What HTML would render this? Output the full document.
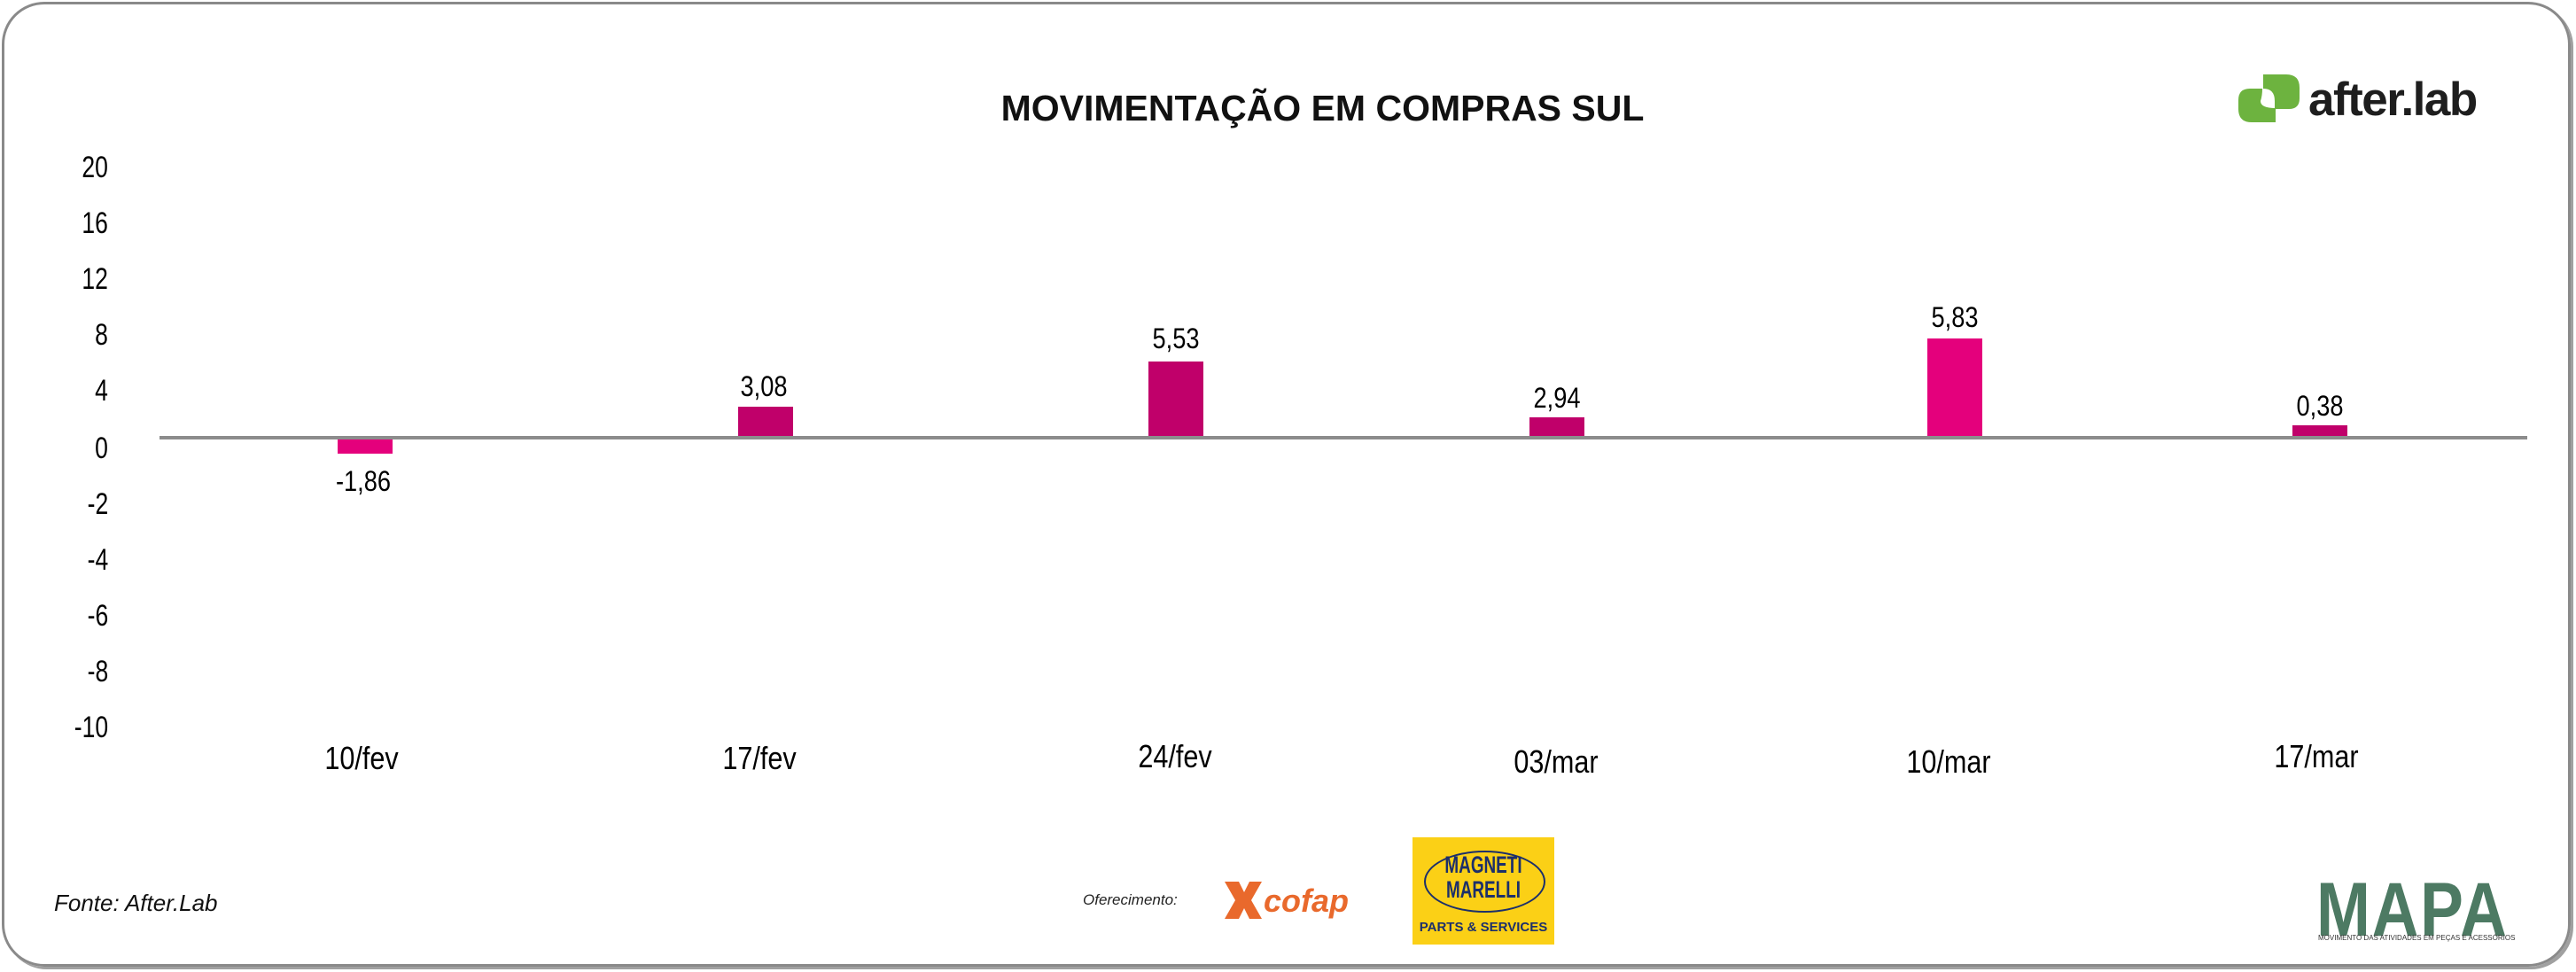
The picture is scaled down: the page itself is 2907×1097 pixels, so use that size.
<!DOCTYPE html>
<html><head><meta charset="utf-8"><style>
html,body{margin:0;padding:0;background:#fff}
body{width:2907px;height:1097px;position:relative;overflow:hidden;font-family:"Liberation Sans",sans-serif}
.frame{position:absolute;left:2px;top:2px;width:2893px;height:1083px;border:3px solid #8a8a8a;border-radius:48px;box-shadow:3px 3px 0 #a0a0a0}
.t{position:absolute;white-space:nowrap;color:#111}
.tick{position:absolute;right:2785px;font-size:34px;transform:scaleX(.78);transform-origin:right center;line-height:1}
.xl{position:absolute;font-size:36px;transform:translateX(-50%) scaleX(.85);line-height:1}
.vl{position:absolute;font-size:32px;transform:translateX(-50%) scaleX(.85);line-height:1}
.bar{position:absolute;width:62px}
</style></head><body>
<div class="frame"></div>
<div class="t" style="left:0;width:2985px;text-align:center;top:99px;font-size:41px;font-weight:bold">MOVIMENTAÇÃO EM COMPRAS SUL</div>
<svg style="position:absolute;left:2526px;top:84px" width="70" height="54" viewBox="0 0 70 54">
<path d="M28 0H54Q69 0 69 15V27Q69 39 57 39H41V30Q41 16 28 16Z" fill="#6db33f"/>
<path d="M27 54H15Q0 54 0 39V29Q0 16 13 16H27Q27 24 25 30Q25 38 42 38V54Z" fill="#6db33f"/>
</svg>
<div class="t" style="left:2605px;top:82px;font-size:53px;font-weight:bold;color:#1e1e1e;letter-spacing:-1.5px">after.lab</div>
<div class="tick" style="top:172px">20</div>
<div class="tick" style="top:235px">16</div>
<div class="tick" style="top:298px">12</div>
<div class="tick" style="top:361px">8</div>
<div class="tick" style="top:424px">4</div>
<div class="tick" style="top:489px">0</div>
<div class="tick" style="top:552px">-2</div>
<div class="tick" style="top:615px">-4</div>
<div class="tick" style="top:678px">-6</div>
<div class="tick" style="top:741px">-8</div>
<div class="tick" style="top:804px">-10</div>
<div style="position:absolute;left:180px;top:492px;width:2672px;height:4px;background:#8c8c8c"></div>
<div class="bar" style="left:381px;top:496px;height:16px;background:#e4007c"></div>
<div class="bar" style="left:833px;top:459px;height:33px;background:#c0006a"></div>
<div class="bar" style="left:1296px;top:408px;height:84px;background:#c0006a"></div>
<div class="bar" style="left:1726px;top:471px;height:21px;background:#c0006a"></div>
<div class="bar" style="left:2175px;top:382px;height:110px;background:#e4007c"></div>
<div class="bar" style="left:2587px;top:480px;height:12px;background:#c0006a"></div>
<div class="vl" style="left:410px;top:527px">-1,86</div>
<div class="vl" style="left:862px;top:420px">3,08</div>
<div class="vl" style="left:1327px;top:366px">5,53</div>
<div class="vl" style="left:1757px;top:433px">2,94</div>
<div class="vl" style="left:2206px;top:342px">5,83</div>
<div class="vl" style="left:2618px;top:442px">0,38</div>
<div class="xl" style="left:408px;top:838px">10/fev</div>
<div class="xl" style="left:857px;top:838px">17/fev</div>
<div class="xl" style="left:1326px;top:836px">24/fev</div>
<div class="xl" style="left:1756px;top:842px">03/mar</div>
<div class="xl" style="left:2199px;top:842px">10/mar</div>
<div class="xl" style="left:2614px;top:836px">17/mar</div>
<div class="t" style="left:61px;top:1004px;font-size:26px;font-style:italic">Fonte: After.Lab</div>
<div class="t" style="left:1222px;top:1006px;font-size:17px;font-style:italic;color:#222">Oferecimento:</div>
<svg style="position:absolute;left:1378px;top:995px" width="180" height="42" viewBox="0 0 180 42">
<path d="M4 0H20L26 12L32 0H46L34 21L46 42H32L26 30L20 42H4L16 21Z" fill="#e9692c"/>
<text x="48" y="34" font-family="Liberation Sans" font-weight="bold" font-style="italic" font-size="36" fill="#e9692c">cofap</text>
</svg>
<div style="position:absolute;left:1594px;top:945px;width:160px;height:121px;background:#fbd016"></div>
<div style="position:absolute;left:1607px;top:960px;width:133px;height:66px;border-radius:50%;background:#fbd016;border:2px solid #1c2f6b"></div>
<div class="t" style="left:1594px;width:160px;text-align:center;top:962px;font-size:27px;font-weight:bold;color:#1c2f6b;line-height:28px;transform:scaleX(.7)">MAGNETI<br>MARELLI</div>
<div class="t" style="left:1594px;width:160px;text-align:center;top:1038px;font-size:15px;font-weight:bold;color:#1c2f6b">PARTS &amp; SERVICES</div>
<div class="t" style="left:2614px;top:978px;font-size:86px;font-weight:bold;color:#4d7a63;letter-spacing:2px;transform:scaleX(.85);transform-origin:left">MAPA</div>
<div class="t" style="left:2616px;top:1054px;font-size:8px;color:#333">MOVIMENTO DAS ATIVIDADES EM PEÇAS E ACESSÓRIOS</div>
</body></html>
